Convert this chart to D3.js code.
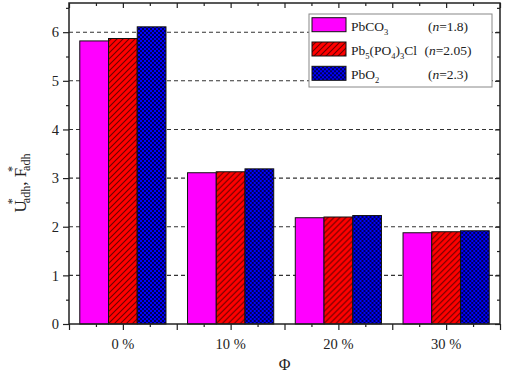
<!DOCTYPE html>
<html>
<head>
<meta charset="utf-8">
<script src="https://cdn.jsdelivr.net/npm/d3@7"></script>
<style>
  body { margin: 0; background: #fff; }
  text { font-family: "Liberation Serif", "DejaVu Serif", serif; fill: #222; }
</style>
</head>
<body>
<div id="chart"></div>
<script>
// data
const categories = ["0 %", "10 %", "20 %", "30 %"];
const seriesNames = ["PbCO3", "Pb5(PO4)3Cl", "PbO2"];
const nValues = ["1.8", "2.05", "2.3"];
const pbco3 = [5.82, 3.11, 2.185, 1.876];
const pb5po43cl = [5.87, 3.13, 2.20, 1.897];
const pbo2 = [6.11, 3.19, 2.23, 1.917];
const yTicks = [0, 1, 2, 3, 4, 5, 6];

const margin = {top: 3, right: 5, bottom: 49, left: 69},
    width = 505 - margin.left - margin.right,
    height = 373 - margin.top - margin.bottom;

const svg = d3.select("#chart")
  .append("svg")
    .attr("width", 505)
    .attr("height", 373);

// fill patterns
const defs = svg.append("defs");
const hatch = defs.append("pattern")
  .attr("id", "hatch")
  .attr("patternUnits", "userSpaceOnUse")
  .attr("width", 6).attr("height", 6);
hatch.append("rect").attr("width", 6).attr("height", 6).attr("fill", "#ff0000");
hatch.append("path")
  .attr("d", "M0,6 L6,0 M-1,1 L1,-1 M5,7 L7,5")
  .attr("stroke", "#6a0000").attr("stroke-width", 1.1);

const cross = defs.append("pattern")
  .attr("id", "cross")
  .attr("patternUnits", "userSpaceOnUse")
  .attr("width", 4).attr("height", 4);
cross.append("rect").attr("width", 4).attr("height", 4).attr("fill", "#0000ff");
cross.append("path")
  .attr("d", "M0,0 L4,4 M0,4 L4,0")
  .attr("stroke", "#000040").attr("stroke-width", 0.9);

const fills = ["#ff00ff", "url(#hatch)", "url(#cross)"];

const g = svg.append("g")
  .attr("transform", `translate(${margin.left},${margin.top})`);

const dataReady = categories.map((c, i) => ({
  cat: c,
  values: [pbco3[i], pb5po43cl[i], pbo2[i]].map((v, j) => ({name: seriesNames[j], value: v}))
}));

const x = d3.scaleBand().domain(categories).range([0, width]);
const xs = d3.scaleBand().domain(seriesNames).range([x.bandwidth() * 0.1, x.bandwidth() * 0.9]);
const y = d3.scaleLinear().domain([0, 6.6]).range([height, 0]);
const xl = d3.scaleLinear().domain([0, categories.length]).range([0, width]);

// dashed grid
g.append("g")
  .selectAll("line")
  .data(yTicks.filter(d => d > 0))
  .join("line")
    .attr("x1", 0).attr("x2", width)
    .attr("y1", d => y(d)).attr("y2", d => y(d))
    .attr("stroke", "#333")
    .attr("stroke-width", 1.1)
    .attr("stroke-dasharray", "4,3");

// bars
g.selectAll(".grp")
  .data(dataReady)
  .join("g")
    .attr("transform", d => `translate(${x(d.cat)},0)`)
  .selectAll("rect")
  .data(d => d.values)
  .join("rect")
    .attr("x", d => xs(d.name))
    .attr("width", xs.bandwidth())
    .attr("y", d => y(d.value))
    .attr("height", d => height - y(d.value))
    .attr("fill", (d, i) => fills[i])
    .attr("stroke", "#111")
    .attr("stroke-width", 1);

// axes
const half = d3.range(0, categories.length + 0.01, 0.5);
const quarter = d3.range(0.25, categories.length, 0.5);
const halfY = d3.range(0.5, 6.6, 1);

function styleAxis(sel) {
  sel.attr("font-family", null).attr("font-size", null);
  sel.select(".domain").remove();
  sel.selectAll("line").attr("stroke", "#222").attr("stroke-width", 1.2);
  sel.selectAll("text")
    .style("font-size", "14.5px")
    .attr("fill", "#222");
}

// bottom
g.append("g").attr("transform", `translate(0,${height})`)
  .call(d3.axisBottom(xl).tickValues(half).tickSize(6).tickFormat(""))
  .call(styleAxis);
g.append("g").attr("transform", `translate(0,${height})`)
  .call(d3.axisBottom(xl).tickValues(quarter).tickSize(3).tickFormat(""))
  .call(styleAxis);
// category labels
g.append("g").attr("transform", `translate(0,${height})`)
  .call(d3.axisBottom(x).tickSize(0).tickPadding(15))
  .call(styleAxis);

// top (inward)
g.append("g")
  .call(d3.axisBottom(xl).tickValues(half).tickSize(5).tickFormat(""))
  .call(styleAxis);
g.append("g")
  .call(d3.axisBottom(xl).tickValues(quarter).tickSize(3).tickFormat(""))
  .call(styleAxis);

// left
g.append("g")
  .call(d3.axisLeft(y).tickValues(yTicks).tickSize(6).tickPadding(4).tickFormat(d3.format("d")))
  .call(styleAxis);
g.append("g")
  .call(d3.axisLeft(y).tickValues(halfY).tickSize(3).tickFormat(""))
  .call(styleAxis);

// right (inward)
g.append("g").attr("transform", `translate(${width},0)`)
  .call(d3.axisRight(y).tickValues(yTicks).tickSize(-5).tickFormat(""))
  .call(styleAxis);
g.append("g").attr("transform", `translate(${width},0)`)
  .call(d3.axisRight(y).tickValues(halfY).tickSize(-3).tickFormat(""))
  .call(styleAxis);

// frame
g.append("rect")
  .attr("width", width).attr("height", height)
  .attr("fill", "none")
  .attr("stroke", "#222")
  .attr("stroke-width", 1.5);

// axis titles
svg.append("text")
  .attr("x", margin.left + width / 2)
  .attr("y", 370)
  .attr("text-anchor", "middle")
  .style("font-size", "16px")
  .text("Φ");

const yl = svg.append("text")
  .attr("transform", "translate(26,183) rotate(-90)")
  .attr("text-anchor", "middle")
  .style("font-size", "17px");
yl.append("tspan").text("U");
yl.append("tspan").attr("dx", -4).attr("dy", -10).style("font-size", "12px").text("*");
yl.append("tspan").attr("dx", -5).attr("dy", 14).style("font-size", "12px").text("adh");
yl.append("tspan").attr("dy", -4).text(", F");
yl.append("tspan").attr("dx", -4).attr("dy", -10).style("font-size", "12px").text("*");
yl.append("tspan").attr("dx", -5).attr("dy", 14).style("font-size", "12px").text("adh");

// legend
const lg = svg.append("g").attr("transform", "translate(309,14)");
lg.append("rect")
  .attr("width", 183).attr("height", 73)
  .attr("fill", "#fff")
  .attr("stroke", "#888")
  .attr("stroke-width", 1);

const legendLabels = [
  [["Pb", 0], ["CO", 0], ["3", 1]],
  [["Pb", 0], ["5", 1], ["(PO", 0], ["4", 1], [")", 0], ["3", 1], ["Cl", 0]],
  [["Pb", 0], ["O", 0], ["2", 1]]
];

const rows = lg.selectAll(".row")
  .data(seriesNames)
  .join("g")
    .attr("transform", (d, i) => `translate(0,${10.7 + i * 24.3})`);

rows.append("rect")
  .attr("x", 3).attr("y", -7)
  .attr("width", 34).attr("height", 14)
  .attr("fill", (d, i) => fills[i])
  .attr("stroke", "#111")
  .attr("stroke-width", 1);

rows.each(function(d, i) {
  const t = d3.select(this).append("text")
    .attr("x", 42).attr("y", 6)
    .style("font-size", "13.5px");
  let sub = false;
  legendLabels[i].forEach(([s, isSub]) => {
    const ts = t.append("tspan").text(s);
    if (isSub && !sub) { ts.attr("dy", 4).style("font-size", "8.5px"); sub = true; }
    else if (isSub) { ts.style("font-size", "8.5px"); }
    else if (sub) { ts.attr("dy", -4); sub = false; }
  });
  const n = d3.select(this).append("text")
    .attr("x", 139).attr("y", 6)
    .attr("text-anchor", "middle")
    .style("font-size", "13.5px");
  n.append("tspan").text("(");
  n.append("tspan").style("font-style", "italic").text("n");
  n.append("tspan").text("=" + nValues[i] + ")");
});
</script>
</body>
</html>
